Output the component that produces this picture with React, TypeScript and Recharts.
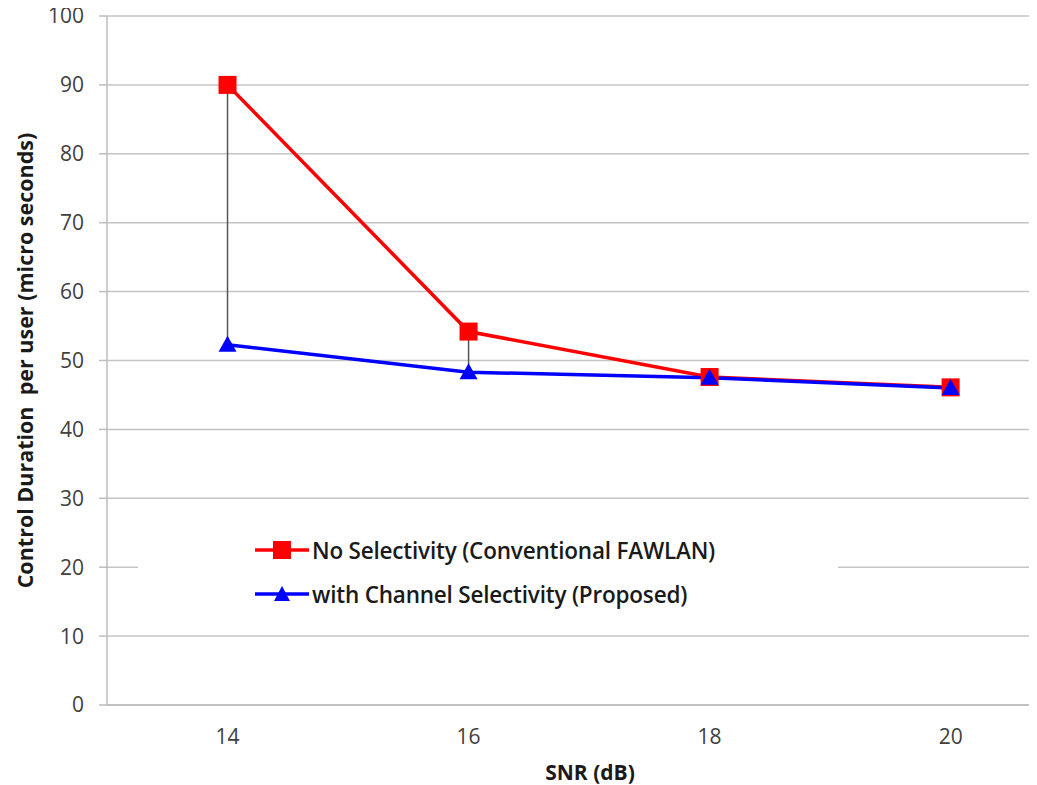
import { LineChart, Line, XAxis, YAxis, CartesianGrid, Legend, ErrorBar } from 'recharts';

const snr = [14, 16, 18, 20];
const noSelectivity = [90, 54.2, 47.6, 46.1];
const withSelectivity = [52.3, 48.3, 47.5, 46.0];
const yTicks = [0, 10, 20, 30, 40, 50, 60, 70, 80, 90, 100];
const xTicks = [14, 16, 18, 20];

const data = snr.map((s, i) => ({
  snr: s,
  conv: noSelectivity[i],
  prop: withSelectivity[i],
  gap: [0, noSelectivity[i] - withSelectivity[i]],
}));

const FONT = '"Open Sans", "Liberation Sans", sans-serif';

const Square = (props: any) => {
  const { cx, cy } = props;
  if (cx == null || cy == null) return null;
  return <rect x={cx - 9} y={cy - 9} width={18} height={18} fill="#ff0000" />;
};

const Triangle = (props: any) => {
  const { cx, cy } = props;
  if (cx == null || cy == null) return null;
  return <path d={`M${cx},${cy - 9} L${cx + 9},${cy + 7} L${cx - 9},${cy + 7} Z`} fill="#0000ff" />;
};

const legendItems = [
  { label: 'No Selectivity (Conventional FAWLAN)', color: '#ff0000', shape: 'square' },
  { label: 'with Channel Selectivity (Proposed)', color: '#0000ff', shape: 'triangle' },
];

const MyLegend = () => (
  <div style={{ background: '#fff', padding: '6px 0 10px 117px', fontFamily: FONT }}>
    {legendItems.map((it) => (
      <div key={it.label} style={{ display: 'flex', alignItems: 'center', height: 44 }}>
        <svg width={56} height={20}>
          <line x1={0} y1={10} x2={54} y2={10} stroke={it.color} strokeWidth={3.5} />
          {it.shape === 'square' ? (
            <rect x={18} y={1} width={18} height={18} fill={it.color} />
          ) : (
            <path d="M27,2 L35,17 L19,17 Z" fill={it.color} />
          )}
        </svg>
        <span style={{ fontSize: 22.5, fontWeight: 600, color: '#1a1a1a', marginLeft: 1, letterSpacing: -0.2 }}>{it.label}</span>
      </div>
    ))}
  </div>
);

const YTitle = (props: any) => {
  const vb = props.viewBox || {};
  const cy = (vb.y ?? 0) + (vb.height ?? 0) / 2;
  const cx = 24;
  return (
    <text
      x={cx}
      y={cy}
      transform={`rotate(-90 ${cx} ${cy})`}
      textAnchor="middle"
      dominantBaseline="central"
      fill="#1a1a1a"
      fontSize={21.5}
      fontWeight={700}
      fontFamily={FONT}
      style={{ whiteSpace: 'pre' }}
    >
      Control Duration  per user (micro seconds)
    </text>
  );
};

const XTitle = (props: any) => {
  const vb = props.viewBox || {};
  const cx = (vb.x ?? 0) + (vb.width ?? 0) / 2 + 19;
  return (
    <text x={cx} y={772} textAnchor="middle" dominantBaseline="central" fill="#1a1a1a" fontSize={21} fontWeight={700} fontFamily={FONT}>
      SNR (dB)
    </text>
  );
};

export default function App() {
  return (
    <div style={{ margin: '-8px -8px 0 -8px', background: '#fff' }}>
      <LineChart width={1037} height={785} data={data} margin={{ top: 16, right: 2, left: 0, bottom: 0 }}>
        <CartesianGrid vertical={false} stroke="#c4c4c4" strokeWidth={1.5} />
        <XAxis
          dataKey="snr"
          type="number"
          domain={[13, 20.7]}
          ticks={xTicks}
          height={80}
          tickSize={0}
          tickMargin={24}
          stroke="#bdbdbd"
          strokeWidth={1.5}
          tick={{ fill: '#404040', fontSize: 21, fontFamily: FONT }}
          label={<XTitle />}
        />
        <YAxis
          domain={[0, 100]}
          ticks={yTicks}
          width={107}
          tickSize={8}
          tickMargin={15}
          stroke="#bdbdbd"
          strokeWidth={1.5}
          tick={{ fill: '#404040', fontSize: 21, fontFamily: FONT }}
          label={<YTitle />}
        />
        <Legend
          layout="horizontal"
          verticalAlign="middle"
          align="center"
          content={<MyLegend />}
          wrapperStyle={{ left: 138, top: 522, width: 700 }}
        />
        <Line dataKey="conv" stroke="#ff0000" strokeWidth={3.5} dot={<Square />} activeDot={false} isAnimationActive={false} />
        <Line dataKey="prop" stroke="#0000ff" strokeWidth={3.5} dot={<Triangle />} activeDot={false} isAnimationActive={false}>
          <ErrorBar dataKey="gap" direction="y" width={0} stroke="#555" strokeWidth={1.5} />
        </Line>
      </LineChart>
    </div>
  );
}
